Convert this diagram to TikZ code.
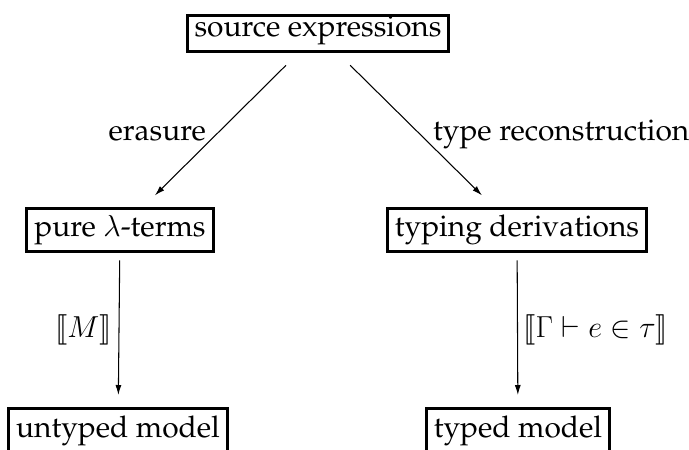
\documentclass[tikz,border=0pt]{standalone}
\usepackage[T1]{fontenc}
\renewcommand{\rmdefault}{ppl}
\usepackage{stmaryrd}
\usetikzlibrary{arrows.meta}

\begin{document}
\begin{tikzpicture}[font=\fontsize{17}{20}\selectfont]
		\tikzstyle{box}=[draw,line width=1.7pt,inner xsep=0.15cm,inner ysep=0.09cm,text height=0.48cm,text depth=0.2cm,anchor=base]
		\tikzstyle{map}=[-{Latex[length=0.2cm,width=0.12cm]},line width=0.6pt]
		\clip (0,0) rectangle (13.78,8.98);
		\node[box,text height=0.34cm] (src) at (6.36,8.24) {source expressions};
		\node[box] (pure) at (2.40,4.24) {pure $\lambda$-terms};
		\node[box] (deriv) at (10.34,4.24) {typing derivations};
		\node[box] (untyped) at (2.36,0.24) {untyped model};
		\node[box] (typed) at (10.36,0.24) {typed model};
		\draw[map,shorten <=0.35cm,shorten >=0.33cm] (src) -- node[pos=0.57,anchor=base east,inner sep=2pt] {erasure} (pure);
		\draw[map,shorten <=0.35cm,shorten >=0.33cm] (src) -- node[pos=0.57,anchor=base west,inner sep=2pt,xshift=0.05cm] {type reconstruction} (deriv);
		\draw[map,shorten <=0.15cm,shorten >=0.24cm] (pure) -- node[left,inner sep=4pt] {$\llbracket M\rrbracket$} (untyped);
		\draw[map,shorten <=0.15cm,shorten >=0.24cm] (deriv) -- node[right,inner sep=3pt] {$\llbracket\Gamma\vdash e\in\tau\rrbracket$} (typed);
	\end{tikzpicture}
\end{document}
